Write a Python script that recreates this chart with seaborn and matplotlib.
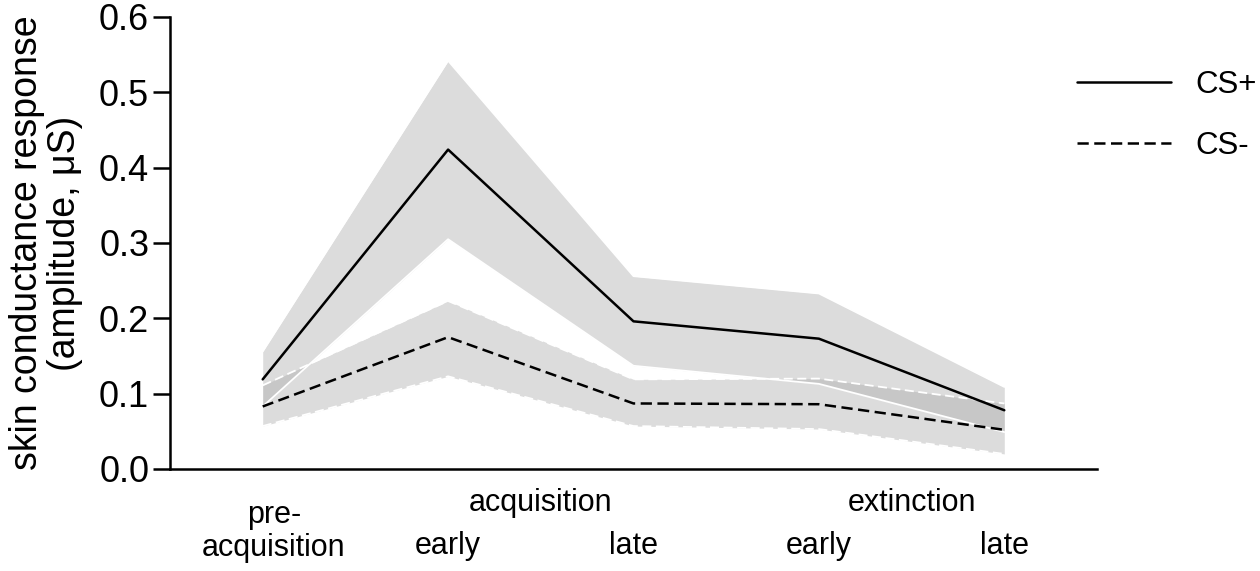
import numpy as np
import pandas as pd
import seaborn as sns
import matplotlib.pyplot as plt

# Dados (médias e limites das faixas)
phase_pos = [0, 1, 2, 3, 4]
csplus_mean = [0.119, 0.424, 0.196, 0.173, 0.078]
csplus_upper = [0.156, 0.542, 0.256, 0.233, 0.109]
csplus_lower = [0.083, 0.305, 0.137, 0.113, 0.049]
csminus_mean = [0.083, 0.175, 0.087, 0.086, 0.052]
csminus_upper = [0.111, 0.223, 0.119, 0.120, 0.087]
csminus_lower = [0.057, 0.123, 0.057, 0.053, 0.020]
stim_labels = ['CS+', 'CS-']
yticks = [0.0, 0.1, 0.2, 0.3, 0.4, 0.5, 0.6]

# Estilo com texto e eixos em preto puro
sns.set_style('ticks', {'axes.edgecolor': 'black', 'text.color': 'black',
                        'axes.labelcolor': 'black', 'xtick.color': 'black',
                        'ytick.color': 'black'})
plt.rcParams['font.family'] = ['Liberation Sans', 'DejaVu Sans']

df = pd.DataFrame({
    'phase': phase_pos * 2,
    'scr': csplus_mean + csminus_mean,
    'stimulus': [stim_labels[0]] * 5 + [stim_labels[1]] * 5,
})

fig = plt.figure(figsize=(12.6, 5.71), dpi=100)
ax = fig.add_axes([170 / 1260, 1 - 469 / 571, 927 / 1260, 452 / 571])

# Faixas (cinza) com bordas brancas no estilo de cada série
band_color = '#a8a8a8'
ax.fill_between(phase_pos, csplus_lower, csplus_upper, color=band_color, alpha=0.4, lw=0, zorder=1)
ax.fill_between(phase_pos, csminus_lower, csminus_upper, color=band_color, alpha=0.4, lw=0, zorder=1)
for lo, hi, ls in [(csplus_lower, csplus_upper, '-'), (csminus_lower, csminus_upper, (0, (5, 2.5)))]:
    ax.plot(phase_pos, lo, color='white', lw=1.3, ls=ls, zorder=2)
    ax.plot(phase_pos, hi, color='white', lw=1.3, ls=ls, zorder=2)

# Linhas das médias
sns.lineplot(data=df, x='phase', y='scr', style='stimulus',
             dashes={'CS+': '', 'CS-': (4.5, 2.2)}, color='black',
             linewidth=1.8, ax=ax, zorder=3, legend=False)

ax.set_xlim(-0.5, 4.5)
ax.set_ylim(0, 0.6)
ax.set_yticks(yticks)
ax.set_yticklabels([f'{v:.1f}' for v in yticks])
ax.set_xticks([])
ax.set_xlabel('')
ax.set_ylabel('skin conductance response\n(amplitude, μS)', fontsize=27, linespacing=1.05)
ax.yaxis.set_label_coords(-0.094, 0.5)

for side in ['top', 'right']:
    ax.spines[side].set_visible(False)
for side in ['left', 'bottom']:
    ax.spines[side].set_linewidth(1.8)
ax.tick_params(axis='y', length=12, width=1.8, labelsize=26, pad=3)

# Rótulos das fases no eixo x
tr = ax.get_xaxis_transform()
ax.text(0.06, -0.102, 'pre-', transform=tr, ha='center', va='center', fontsize=22)
ax.text(0.06, -0.175, 'acquisition', transform=tr, ha='center', va='center', fontsize=22)
ax.text(1.5, -0.075, 'acquisition', transform=tr, ha='center', va='center', fontsize=22)
ax.text(3.5, -0.075, 'extinction', transform=tr, ha='center', va='center', fontsize=22)
for xpos, lab in zip([1, 2, 3, 4], ['early', 'late', 'early', 'late']):
    ax.text(xpos, -0.170, lab, transform=tr, ha='center', va='center', fontsize=22)

# Legenda
handles = [plt.Line2D([], [], color='black', lw=1.8, ls='-'),
           plt.Line2D([], [], color='black', lw=1.8, ls=(0, (4.5, 2.2)))]
fig.legend(handles, stim_labels, loc='upper left', bbox_to_anchor=(1077 / 1260, 1 - 70 / 571),
           bbox_transform=fig.transFigure, frameon=False, fontsize=22.5,
           handlelength=3.0, handletextpad=0.8, labelspacing=1.0, borderpad=0, borderaxespad=0)

fig.savefig('out.png', dpi=100)
